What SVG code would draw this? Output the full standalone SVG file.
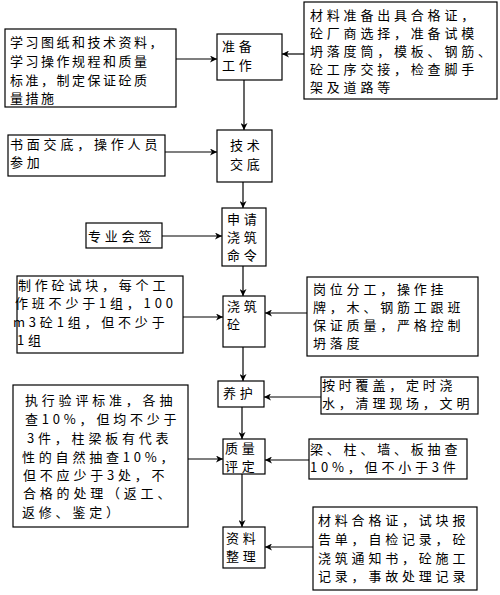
<svg xmlns="http://www.w3.org/2000/svg" width="500" height="595" viewBox="0 0 500 595">
<style>
rect{fill:#fff;stroke:#000;stroke-width:1.2}
text{font-family:"Noto Sans CJK SC","Noto Sans",sans-serif;font-size:13px;fill:#000;letter-spacing:3.8px}
.t{letter-spacing:2.5px}
#connectors path{fill:none;stroke:#000;stroke-width:1.2;marker-end:url(#ah)}
</style>
<defs>
<marker id="ah" markerUnits="userSpaceOnUse" markerWidth="8" markerHeight="7" refX="7" refY="3.5" orient="auto">
<path d="M0,0 L7,3.5 L0,7 L2,3.5 z" fill="#000"/>
</marker>
</defs>
<rect x="0" y="0" width="500" height="595" style="stroke:none"/>
<g id="connectors">
<path d="M176,59 H217"/>
<path d="M304,54 H282"/>
<path d="M244,80 V130"/>
<path d="M165,152 H217"/>
<path d="M243,182 V208"/>
<path d="M162,236 H222"/>
<path d="M243,266 V296"/>
<path d="M183,317 H223"/>
<path d="M307,313 H265"/>
<path d="M243,347 V381"/>
<path d="M321,397 H264"/>
<path d="M242,407 V439"/>
<path d="M188,459 H223"/>
<path d="M309,460 H265"/>
<path d="M242,474 V527"/>
<path d="M313,547 H265"/>
</g>
<g id="n1"><rect x="217" y="34" width="65" height="46"/><text x="222" y="51">准备</text><text x="222" y="70">工作</text></g>
<g id="n2"><rect x="217" y="130" width="55" height="52"/><text x="230" y="150">技术</text><text x="230" y="169">交底</text></g>
<g id="n3"><rect x="222" y="208" width="44" height="58"/><text x="227" y="224">申请</text><text x="227" y="242">浇筑</text><text x="227" y="260">命令</text></g>
<g id="n4"><rect x="223" y="296" width="42" height="51"/><text x="227" y="311">浇筑</text><text x="227" y="329">砼</text></g>
<g id="n5"><rect x="218" y="381" width="46" height="26"/><text x="223" y="398">养护</text></g>
<g id="n6"><rect x="223" y="439" width="42" height="35"/><text x="225" y="453">质量</text><text x="225" y="471">评定</text></g>
<g id="n7"><rect x="223" y="527" width="42" height="41"/><text x="226" y="543">资料</text><text x="226" y="561">整理</text></g>
<g id="a1"><rect x="5" y="29" width="171" height="78"/>
<text class="t" x="10" y="47">学习图纸和技术资料，</text>
<text class="t" x="10" y="66">学习操作规程和质量</text>
<text class="t" x="10" y="85">标准，制定保证砼质</text>
<text class="t" x="10" y="103">量措施</text></g>
<g id="a2"><rect x="304" y="2" width="193" height="97"/>
<text x="310" y="20">材料准备出具合格证，</text>
<text x="310" y="38">砼厂商选择，准备试模</text>
<text x="310" y="56">坍落度筒，模板、钢筋、</text>
<text x="310" y="74">砼工序交接，检查脚手</text>
<text x="310" y="92">架及道路等</text></g>
<g id="a3"><rect x="8" y="135" width="157" height="41"/>
<text x="10" y="149">书面交底，操作人员</text>
<text x="10" y="167">参加</text></g>
<g id="a4"><rect x="86" y="223" width="76" height="25"/><text x="88" y="241">专业会签</text></g>
<g id="a5"><rect x="17" y="276" width="166" height="77"/>
<text x="18" y="290">制作砼试块，每个工</text>
<text x="15" y="308">作班不少于1组，100</text>
<text x="13" y="327">m3砼1组，但不少于</text>
<text x="17" y="345">1组</text></g>
<g id="a6"><rect x="307" y="277" width="171" height="79"/>
<text x="313" y="294">岗位分工，操作挂</text>
<text x="313" y="312">牌，木、钢筋工跟班</text>
<text x="313" y="330">保证质量，严格控制</text>
<text x="313" y="348">坍落度</text></g>
<g id="a7"><rect x="13" y="385" width="175" height="142"/>
<text x="25" y="405">执行验评标准，各抽</text>
<text x="25" y="424">查10%，但均不少于</text>
<text x="27" y="443">3件，柱梁板有代表</text>
<text x="22" y="462">性的自然抽查10%，</text>
<text x="23" y="480">但不应少于3处，不</text>
<text x="23" y="498">合格的处理（返工、</text>
<text x="22" y="517">返修、鉴定）</text></g>
<g id="a8"><rect x="321" y="377" width="157" height="37"/>
<text x="322" y="390">按时覆盖，定时浇</text>
<text x="322" y="408">水，清理现场，文明</text></g>
<g id="a9"><rect x="309" y="439" width="158" height="40"/>
<text x="310" y="454">梁、柱、墙、板抽查</text>
<text x="310" y="472">10%，但不小于3件</text></g>
<g id="a10"><rect x="313" y="507" width="164" height="83"/>
<text x="318" y="525">材料合格证，试块报</text>
<text x="318" y="544">告单，自检记录，砼</text>
<text x="318" y="563">浇筑通知书，砼施工</text>
<text x="318" y="581">记录，事故处理记录</text></g>
</svg>
